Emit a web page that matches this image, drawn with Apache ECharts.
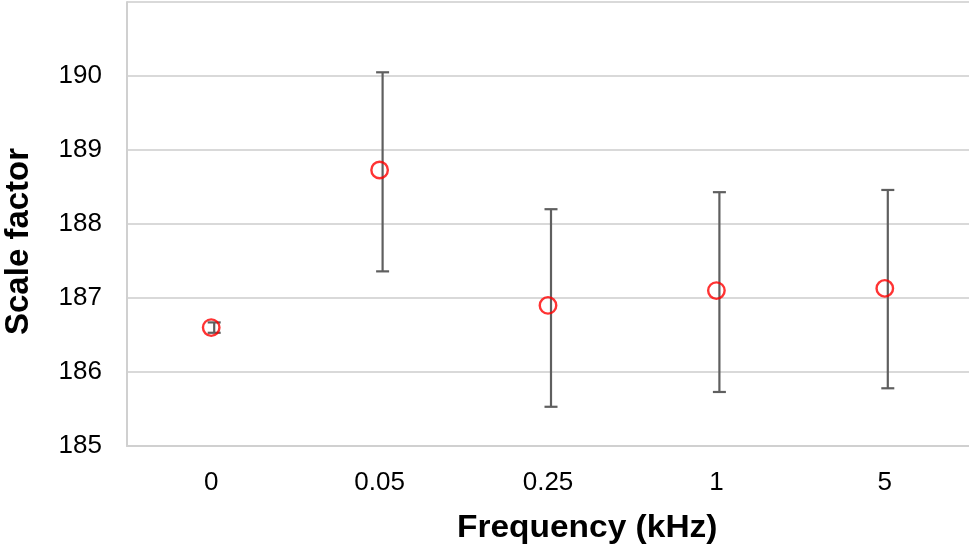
<!DOCTYPE html>
<html><head><meta charset="utf-8">
<script src="https://cdn.jsdelivr.net/npm/echarts@6/dist/echarts.min.js"></script>
<style>html,body{margin:0;padding:0;background:#fff}#c{width:969px;height:553px}</style>
</head><body><div id="c"></div>
<script>
const categories = ['0', '0.05', '0.25', '1', '5'];
const means = [186.6, 188.73, 186.9, 187.1, 187.13];
const lower = [186.53, 187.36, 185.53, 185.73, 185.78];
const upper = [186.67, 190.05, 188.2, 188.43, 188.46];
const yTicks = [185, 186, 187, 188, 189, 190, 191];

const chart = echarts.init(document.getElementById('c'));
const font = 'Liberation Sans, Arial, sans-serif';
chart.setOption({
  animation: false,
  grid: {left: 127, right: 0, top: 2, bottom: 107},
  xAxis: {
    type: 'category', data: categories,
    axisLine: {lineStyle: {color: '#d0d0d0', width: 2}},
    axisTick: {show: false},
    axisLabel: {color: '#000', fontSize: 26, fontFamily: font, margin: 24}
  },
  yAxis: {
    type: 'value', min: yTicks[0], max: yTicks[yTicks.length - 1], interval: 1,
    axisLine: {show: true, lineStyle: {color: '#d0d0d0', width: 2}},
    axisTick: {show: false},
    splitLine: {lineStyle: {color: '#d9d9d9', width: 2}},
    axisLabel: {color: '#000', fontSize: 26, fontFamily: font, margin: 25,
      formatter: v => v === 191 ? '' : String(v)}
  },
  graphic: [
    {type: 'text', x: 457, y: 528, scaleX: 1.08,
     style: {text: 'Frequency (kHz)', font: 'bold 31px ' + font, fill: '#000', textAlign: 'left', textVerticalAlign: 'middle'}},
    {type: 'text', x: 19, y: 335, rotation: Math.PI / 2,
     style: {text: 'Scale factor', font: 'bold 33px ' + font, fill: '#000', textAlign: 'left', textVerticalAlign: 'middle'}}
  ],
  series: [
    {
      type: 'custom',
      data: categories.map((c, i) => [i, lower[i], upper[i]]),
      renderItem: function (params, api) {
        const lo = api.coord([api.value(0), api.value(1)]);
        const hi = api.coord([api.value(0), api.value(2)]);
        const x = lo[0] + 3;
        const hw = 6.5;
        const st = {stroke: '#5f5f5f', lineWidth: 2.2};
        return {type: 'group', children: [
          {type: 'line', shape: {x1: x, y1: hi[1], x2: x, y2: lo[1]}, style: st},
          {type: 'line', shape: {x1: x - hw, y1: hi[1], x2: x + hw, y2: hi[1]}, style: st},
          {type: 'line', shape: {x1: x - hw, y1: lo[1], x2: x + hw, y2: lo[1]}, style: st}
        ]};
      },
      z: 2
    },
    {
      type: 'scatter', data: means, symbol: 'circle', symbolSize: 16.5,
      itemStyle: {color: 'rgba(255,255,255,0)', borderColor: '#ff0000', borderWidth: 2.4},
      z: 3
    }
  ]
});
</script></body></html>
